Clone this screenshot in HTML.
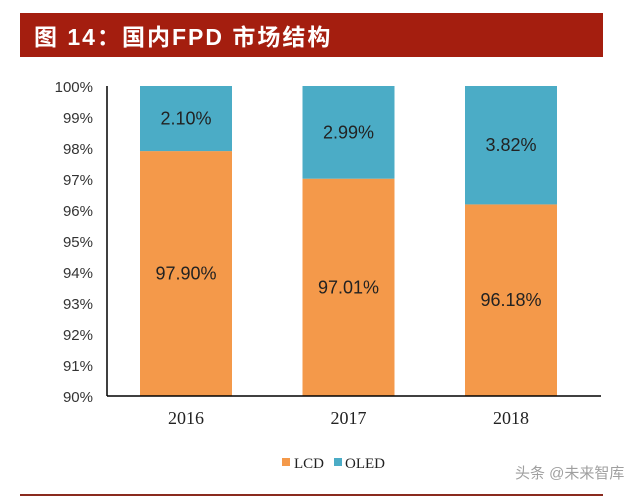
<!DOCTYPE html>
<html><head><meta charset="utf-8"><style>
body{margin:0;background:#fff;width:640px;height:497px;overflow:hidden;}
svg{display:block}
</style></head><body>
<svg width="640" height="497">
<rect x="20" y="13" width="583" height="44" fill="#a41e0f"/>
<text x="34" y="45" font-family="'Liberation Sans','Noto Sans CJK SC',sans-serif" font-size="23" font-weight="bold" fill="#fff" letter-spacing="2">图 14：国内FPD 市场结构</text>
<g id="plot"></g>
<line x1="20" y1="495" x2="603" y2="495" stroke="#8a2a1e" stroke-width="2"/>
<rect x="282" y="458" width="8" height="8" fill="#f4994a"/>
<text x="294" y="468" font-family="'Liberation Serif',serif" font-size="15" fill="#222">LCD</text>
<rect x="334" y="458" width="8" height="8" fill="#4bacc6"/>
<text x="345" y="468" font-family="'Liberation Serif',serif" font-size="15" fill="#222">OLED</text>
<text x="515" y="478" font-family="'Liberation Sans','Noto Sans CJK SC',sans-serif" font-size="15" fill="#888" opacity="0.8">头条 @未来智库</text>
</svg>
<script>
const categories=['2016','2017','2018'];
const lcd=[97.90,97.01,96.18];
const oled=[2.10,2.99,3.82];
const ticks=[90,91,92,93,94,95,96,97,98,99,100];
const NS='http://www.w3.org/2000/svg';
const g=document.getElementById('plot');
const y=v=>396-(v-90)*31;
const x=i=>140+i*162.5;
const bw=92;
function el(t,a,txt){const e=document.createElementNS(NS,t);for(const k in a)e.setAttribute(k,a[k]);if(txt!==undefined)e.textContent=txt;g.appendChild(e);return e;}
ticks.forEach(t=>{
 const e=el('text',{x:93,y:y(t)+6,'text-anchor':'end','font-family':"'Liberation Sans',sans-serif",'font-size':15,fill:'#333'},t+'%');
 
 
});
categories.forEach((c,i)=>{
 const top=Math.min(100,lcd[i]+oled[i]);
 const b1=el('rect',{x:x(i),y:y(lcd[i]),width:bw,height:y(90)-y(lcd[i]),fill:'#f4994a'});
 
 
 const b2=el('rect',{x:x(i),y:y(top),width:bw,height:y(lcd[i])-y(top),fill:'#4bacc6'});
 
 
 const l1=el('text',{x:x(i)+bw/2,y:(y(lcd[i])+y(90))/2+6,'text-anchor':'middle','font-family':"'Liberation Sans',sans-serif",'font-size':18,fill:'#222'},lcd[i].toFixed(2)+'%');
 
 
 const l2=el('text',{x:x(i)+bw/2,y:(y(top)+y(lcd[i]))/2+6,'text-anchor':'middle','font-family':"'Liberation Sans',sans-serif",'font-size':18,fill:'#222'},oled[i].toFixed(2)+'%');
 
 
 const xl=el('text',{x:x(i)+bw/2,y:424,'text-anchor':'middle','font-family':"'Liberation Serif',serif",'font-size':18,fill:'#222'},c);
 
 
});
const ya=el('line',{x1:107,y1:86,x2:107,y2:396,stroke:'#000','stroke-width':1.5});


const xa=el('line',{x1:107,y1:396,x2:601,y2:396,stroke:'#000','stroke-width':1.5});


</script>
</body></html>
